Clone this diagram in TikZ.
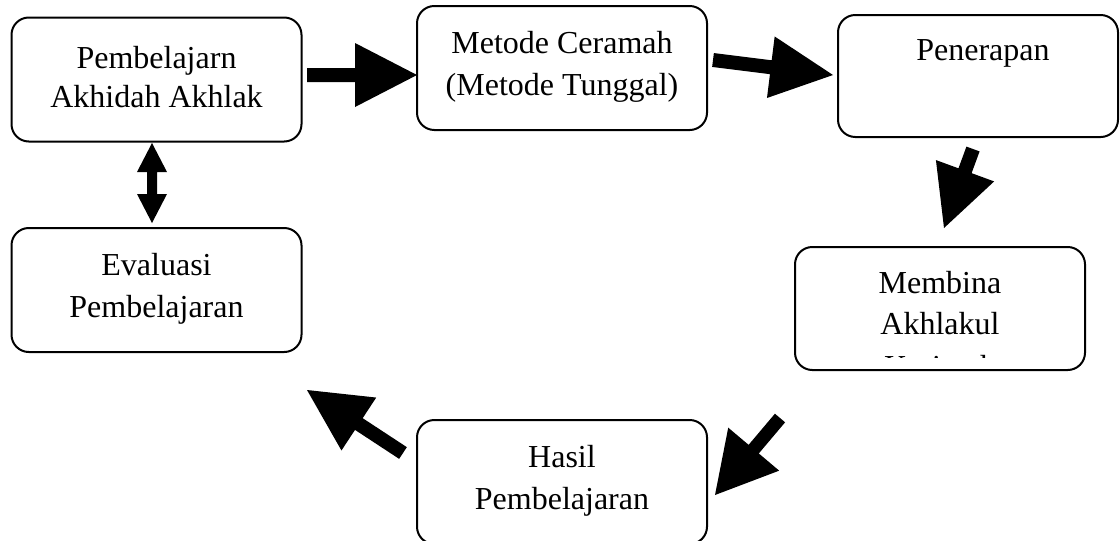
\documentclass[tikz,border=0pt]{standalone}
\usepackage{fontspec}
\setmainfont{Liberation Serif}
\usetikzlibrary{calc}
% block arrow: #1 start, #2 tip, #3 shaft half width, #4 head half width, #5 head length
\newcommand{\fatarrow}[5]{%
  \coordinate (faC) at ($(#2)!#5!(#1)$);
  \fill ($(#1)!#3!90:(#2)$) -- ($(faC)!#3!90:(#2)$) -- ($(faC)!#4!90:(#2)$) -- (#2)
     -- ($(faC)!#4!-90:(#2)$) -- ($(faC)!#3!-90:(#2)$) -- ($(#1)!#3!-90:(#2)$) -- cycle;}
\begin{document}
\begin{tikzpicture}[x=0.75pt,y=-0.75pt,
  box/.style={draw, rounded corners=13pt, line width=1.5pt, inner sep=0pt,
              minimum width=217.5pt, minimum height=93pt},
  txt/.style={font=\fontsize{24}{29}\selectfont, inner sep=0pt, anchor=base}]
\useasboundingbox (0,0) rectangle (1120,540);
\fill[white] (0,0) rectangle (1120,540);
\clip (0,0) rectangle (1120,540);

% boxes
\node[box] (b1) at (156.5,79.5) {};
\node[box] (b2) at (562,68) {};
\node[box, minimum width=210pt, minimum height=91.5pt] (b3) at (978,76) {};
\node[box, minimum height=92.25pt] (b4) at (940,308.5) {};
\node[box] (b5) at (562,482) {};
\node[box] (b6) at (156.5,290) {};

% texts
\node[txt] (t1a) at (156.5,68) {Pembelajarn};
\node[txt] (t1b) at (156.5,107) {Akhidah Akhlak};
\node[txt] (t2a) at (562,53) {Metode Ceramah};
\node[txt] (t2b) at (562,95) {(Metode Tunggal)};
\node[txt] (t3a) at (983,60) {Penerapan};
\node[txt] (t4a) at (940,293) {Membina};
\node[txt] (t4b) at (940,334) {Akhlakul};
\begin{scope}
  \clip (795,247) rectangle (1085,357);
  \node[txt] (t4c) at (940,377) {Karimah};
\end{scope}
\node[txt] (t5a) at (562,467) {Hasil};
\node[txt] (t5b) at (562,509) {Pembelajaran};
\node[txt] (t6a) at (156.5,275) {Evaluasi};
\node[txt] (t6b) at (156.5,317) {Pembelajaran};

% arrow end points
\coordinate (a1s) at (307,75);  \coordinate (a1e) at (417,75);
\coordinate (a2s) at (713,60);  \coordinate (a2e) at (833,75);
\coordinate (a3s) at (973,149); \coordinate (a3e) at (944,228);
\coordinate (a4s) at (780,418); \coordinate (a4e) at (715,495);
\coordinate (a5s) at (403,453); \coordinate (a5e) at (307,390);

\fatarrow{a1s}{a1e}{5.25pt}{24pt}{46.5pt}
\fatarrow{a2s}{a2e}{5.25pt}{23.25pt}{47pt}
\fatarrow{a3s}{a3e}{5.25pt}{23.25pt}{45.75pt}
\fatarrow{a4s}{a4e}{5pt}{25pt}{45pt}
\fatarrow{a5s}{a5e}{5.25pt}{23.75pt}{46.5pt}

% double arrow between b1 and b6
\coordinate (d1) at (152,143);
\fill (d1) -- ++(15,29) -- ++(-10,0) -- ++(0,22) -- ++(10,0) -- ++(-15,29)
  -- ++(-15,-29) -- ++(10,0) -- ++(0,-22) -- ++(-10,0) -- cycle;
\end{tikzpicture}
\end{document}
